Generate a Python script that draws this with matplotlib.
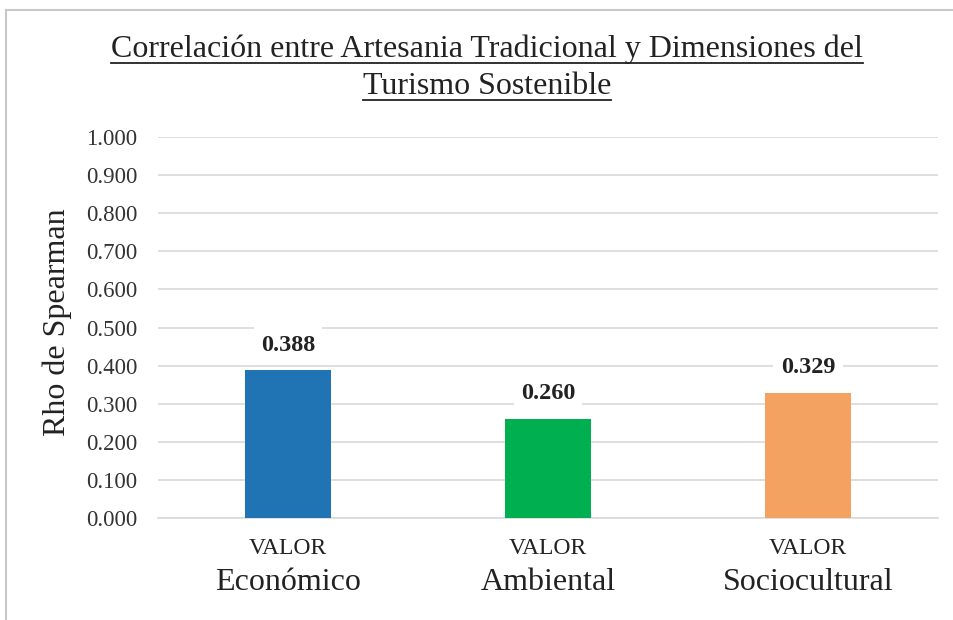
import matplotlib.pyplot as plt
from matplotlib.lines import Line2D
import matplotlib.transforms as mtransforms

plt.rcParams['font.family'] = ['Liberation Serif', 'DejaVu Serif']

# datos
categorias = ['Económico', 'Ambiental', 'Sociocultural']
prefijo = ['VALOR', 'VALOR', 'VALOR']
rho = [0.388, 0.260, 0.329]
colores = ['#2074B4', '#00B050', '#F4A262']
yticks = [i / 10 for i in range(11)]
titulo = ['Correlación entre Artesania Tradicional y Dimensiones del', 'Turismo Sostenible']

W, H = 954, 620
fig = plt.figure(figsize=(W / 100, H / 100), dpi=100)
ax = fig.add_axes([158 / W, 1 - 518 / H, 780 / W, 381 / H])

x = list(range(len(categorias)))
ax.bar(x, rho, width=0.33, color=colores, zorder=3)
ax.set_xlim(-0.5, 2.5)
ax.set_ylim(0, 1.0)
ax.set_yticks(yticks)
ax.set_yticklabels(['%.3f' % v for v in yticks], fontsize=16.5, color='#333333')
ax.tick_params(axis='y', length=0, pad=15)
ax.set_xticks([])
ax.grid(axis='y', color='#d9d9d9', linewidth=1.2, zorder=0)
for s in ['top', 'right', 'left']:
    ax.spines[s].set_visible(False)
ax.spines['bottom'].set_color('#d9d9d9')
ax.spines['bottom'].set_linewidth(1.2)

ax.set_ylabel('Rho de Spearman', fontsize=23, color='#222222')
ax.yaxis.set_label_coords(-0.11, 0.514)

# etiquetas de datos
for i, v in enumerate(rho):
    ax.annotate('%.3f' % v, (i, v), xytext=(0, 18), textcoords='offset points',
                ha='center', va='center', fontsize=17.5, fontweight='bold', color='#222222',
                bbox=dict(boxstyle='square,pad=0.3', fc='white', ec='none'), zorder=4)

# etiquetas del eje x en dos lineas
trans = mtransforms.blended_transform_factory(ax.transData, fig.transFigure)
for i in x:
    ax.text(i, 1 - 548 / H, prefijo[i], transform=trans, ha='center', va='center',
            fontsize=17, color='#222222')
    ax.text(i, 1 - 582 / H, categorias[i], transform=trans, ha='center', va='center',
            fontsize=23, color='#222222')

# titulo subrayado
fig.canvas.draw()
r = fig.canvas.get_renderer()
for ln, yy in zip(titulo, [49, 86]):
    t = fig.text(487 / W, 1 - yy / H, ln, ha='center', va='center', fontsize=23, color='#222222')
    bb = t.get_window_extent(renderer=r)
    yl = (bb.y0 + 1) / H
    fig.add_artist(Line2D([bb.x0 / W, bb.x1 / W], [yl, yl],
                          transform=fig.transFigure, color='#222222', linewidth=1.3))

# borde del grafico
fig.add_artist(Line2D([6 / W, 6 / W], [0, 1 - 10 / H], transform=fig.transFigure,
                      color='#c8c8c8', linewidth=1.5))
fig.add_artist(Line2D([6 / W, 1], [1 - 10 / H, 1 - 10 / H], transform=fig.transFigure,
                      color='#c8c8c8', linewidth=1.5))

fig.savefig('out.png', dpi=100)
